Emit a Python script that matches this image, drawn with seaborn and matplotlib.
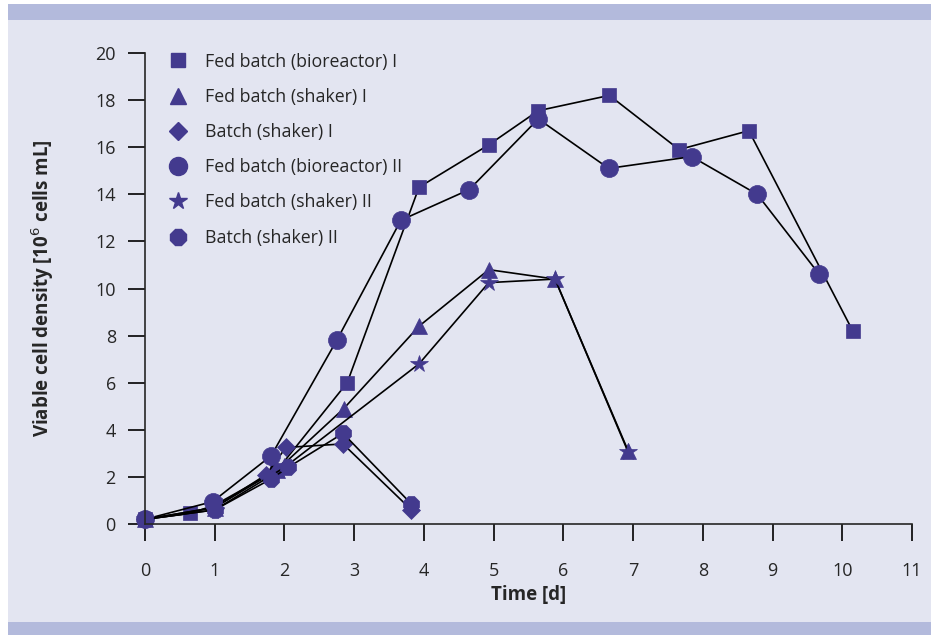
import numpy as np
import pandas as pd
import matplotlib
matplotlib.use("Agg")
import matplotlib.pyplot as plt
from matplotlib.lines import Line2D
from matplotlib.patches import Rectangle
import seaborn as sns

# Viable cell density over time, six cultures
fb_bio1_t = [0, 0.65, 1.0, 1.9, 2.9, 3.93, 4.93, 5.64, 6.66, 7.66, 8.66, 10.15]
fb_bio1_v = [0.2, 0.45, 0.8, 2.3, 6.0, 14.3, 16.1, 17.55, 18.2, 15.9, 16.7, 8.2]

fb_sh1_t = [0, 1.0, 1.9, 2.85, 3.93, 4.93, 5.88, 6.93]
fb_sh1_v = [0.2, 0.7, 2.3, 4.9, 8.4, 10.8, 10.4, 3.1]

b_sh1_t = [0, 1.0, 1.74, 2.02, 2.84, 3.82]
b_sh1_v = [0.2, 0.7, 2.1, 3.25, 3.4, 0.6]

fb_bio2_t = [0, 0.97, 1.81, 2.75, 3.67, 4.65, 5.64, 6.65, 7.84, 8.78, 9.67]
fb_bio2_v = [0.2, 0.95, 2.9, 7.8, 12.9, 14.2, 17.2, 15.1, 15.6, 14.0, 10.6]

fb_sh2_t = [0, 1.0, 2.0, 3.93, 4.93, 5.88, 6.93]
fb_sh2_v = [0.2, 0.6, 2.4, 6.8, 10.25, 10.4, 3.05]

b_sh2_t = [0, 1.0, 1.8, 2.05, 2.84, 3.82]
b_sh2_v = [0.2, 0.6, 1.9, 2.4, 3.85, 0.85]

labels = ["Fed batch (bioreactor) I", "Fed batch (shaker) I", "Batch (shaker) I",
          "Fed batch (bioreactor) II", "Fed batch (shaker) II", "Batch (shaker) II"]
series = [(fb_bio1_t, fb_bio1_v), (fb_sh1_t, fb_sh1_v), (b_sh1_t, b_sh1_v),
          (fb_bio2_t, fb_bio2_v), (fb_sh2_t, fb_sh2_v), (b_sh2_t, b_sh2_v)]
markers = ["s", "^", "D", "o", "*", "8"]
msizes = [10, 12, 9, 13, 13, 12]

purple = "#433a8e"
bg = "#e3e5f1"
band = "#b3badc"

sns.set_style("ticks")
plt.rcParams["font.family"] = ["Open Sans", "DejaVu Sans"]

fig = plt.figure(figsize=(9.33, 6.35), dpi=100, facecolor="white")
W, H = 933, 635
fig.patches.append(Rectangle((8 / W, 0), 923 / W, 1 - 4 / H, transform=fig.transFigure,
                             facecolor=bg, edgecolor="none", zorder=-10))
fig.patches.append(Rectangle((8 / W, 1 - 20 / H), 923 / W, 16 / H, transform=fig.transFigure,
                             facecolor=band, edgecolor="none", zorder=-9))
fig.patches.append(Rectangle((8 / W, 0), 923 / W, 13 / H, transform=fig.transFigure,
                             facecolor=band, edgecolor="none", zorder=-9))

ax = fig.add_axes([145 / W, 1 - 524 / H, 767 / W, 471 / H])
ax.set_facecolor("none")

for (t, v), lab, m, ms in zip(series, labels, markers, msizes):
    df = pd.DataFrame({"t": t, "v": v})
    sns.lineplot(data=df, x="t", y="v", ax=ax, color="black", linewidth=1.2,
                 sort=False, estimator=None, marker=m, markersize=ms,
                 markerfacecolor=purple, markeredgecolor=purple, markeredgewidth=0.5,
                 clip_on=False)

ax.set_xlim(0, 11)
ax.set_ylim(0, 20)
ax.set_xticks(range(0, 12))
ax.set_yticks(range(0, 21, 2))
ax.tick_params(direction="out", length=12, width=1.2, labelsize=13, color="black")
ax.tick_params(axis="x", pad=15)
ax.tick_params(axis="y", pad=9)
for s in ["top", "right"]:
    ax.spines[s].set_visible(False)
for s in ["left", "bottom"]:
    ax.spines[s].set_linewidth(1.2)

ax.set_xlabel("Time [d]", fontsize=13.5, fontweight="bold", labelpad=4)
ax.set_ylabel("Viable cell density [10$^6$ cells mL]", fontsize=13.5, fontweight="bold", labelpad=28)

handles = [Line2D([], [], linestyle="none", marker=m, markersize=ms, color=purple)
           for m, ms in zip(markers, msizes)]
ax.legend(handles, labels, loc="upper left", bbox_to_anchor=(0.005, 1.035), frameon=False,
          fontsize=12.8, labelspacing=0.97, handletextpad=0.75, handlelength=1.5)

fig.savefig("out.png", dpi=100, facecolor="white")
